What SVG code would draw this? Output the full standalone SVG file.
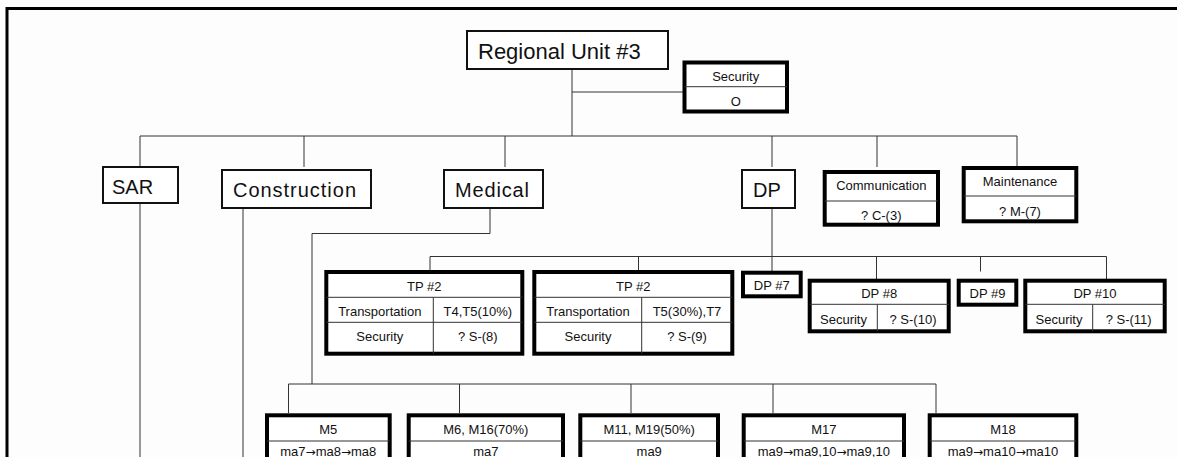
<svg xmlns="http://www.w3.org/2000/svg" width="1177" height="457" viewBox="0 0 1177 457">
  <style>
    .frame { fill: none; stroke: #000; stroke-width: 3; }
    .wire { fill: none; stroke: #333; stroke-width: 1; }
    .unit { fill: #fff; stroke: #111; stroke-width: 2; }
    .cell { fill: #fff; stroke: #000; stroke-width: 4; }
    .rule { fill: none; stroke: #333; stroke-width: 1; }
    .big { font-family: "Liberation Sans", "DejaVu Sans", sans-serif; font-size: 20px; fill: #111; }
    .txt { font-family: "Liberation Sans", "DejaVu Sans", sans-serif; font-size: 13px; fill: #111; text-anchor: middle; }
    .arr { font-family: "DejaVu Sans", sans-serif; font-size: 12px; }
  </style>
  <rect width="1177" height="457" fill="#fdfdfd"/>
  <path class="frame" d="M7,457 V8.5 H1177"/>

  <!-- connectors -->
  <g id="connectors">
    <path class="wire" d="M572,69 V136 M572,92 H684"/>
    <path class="wire" d="M140,136 H1017"/>
    <path class="wire" d="M140,136 V167 M304,136 V167 M505,136 V167 M772,136 V167 M877,136 V167 M1017,136 V166"/>
    <path class="wire" d="M140,203 V457"/>
    <path class="wire" d="M243,208 V457"/>
    <path class="wire" d="M490,208 V233.5 H312 V384"/>
    <path class="wire" d="M288.5,384 H936"/>
    <path class="wire" d="M288.5,384 V413 M459.5,384 V413 M631,384 V413 M773,384 V413 M936,384 V413"/>
    <path class="wire" d="M772,208 V271"/>
    <path class="wire" d="M430,256.5 H1106.5"/>
    <path class="wire" d="M430,256.5 V270 M638.5,256.5 V270 M876.5,256.5 V279 M980.5,256.5 V271.5 M1106.5,256.5 V279"/>
  </g>

  <!-- top unit -->
  <g id="regional-unit">
    <rect class="unit" x="467" y="31" width="201" height="38"/>
    <text class="big" x="478" y="59" style="font-size:22px">Regional Unit #3</text>
  </g>

  <g id="security-top">
    <rect class="cell" x="684.5" y="62.5" width="102.5" height="49"/>
    <path class="rule" d="M684.5,86.7 H787"/>
    <text class="txt" x="735.7" y="80.5">Security</text>
    <text class="txt" x="735.7" y="106">O</text>
  </g>

  <!-- second level -->
  <g id="sar">
    <rect class="unit" x="103" y="167" width="75" height="36"/>
    <text class="big" x="112" y="194">SAR</text>
  </g>
  <g id="construction">
    <rect class="unit" x="222" y="170" width="149" height="38"/>
    <text class="big" x="233" y="197" textLength="123">Construction</text>
  </g>
  <g id="medical">
    <rect class="unit" x="444" y="170" width="99" height="38"/>
    <text class="big" x="455" y="197" textLength="74">Medical</text>
  </g>
  <g id="dp">
    <rect class="unit" x="742" y="170" width="53" height="38"/>
    <text class="big" x="753" y="197">DP</text>
  </g>
  <g id="communication">
    <rect class="cell" x="824.7" y="172" width="113.3" height="52.7"/>
    <path class="rule" d="M824.7,201 H938"/>
    <text class="txt" x="881.3" y="189.5">Communication</text>
    <text class="txt" x="881.3" y="219.5">? C-(3)</text>
  </g>
  <g id="maintenance">
    <rect class="cell" x="963.7" y="168" width="112.6" height="53.3"/>
    <path class="rule" d="M963.7,196 H1076.3"/>
    <text class="txt" x="1020" y="186">Maintenance</text>
    <text class="txt" x="1020" y="216">? M-(7)</text>
  </g>

  <!-- transport points -->
  <g id="tp2-a">
    <rect class="cell" x="326.3" y="272" width="196" height="81.7"/>
    <path class="rule" d="M326.3,297.3 H522.3 M326.3,322.3 H522.3 M433.3,297.3 V353.7"/>
    <text class="txt" x="424.3" y="291">TP #2</text>
    <text class="txt" x="379.8" y="315.5">Transportation</text>
    <text class="txt" x="477.8" y="315.5">T4,T5(10%)</text>
    <text class="txt" x="379.8" y="341">Security</text>
    <text class="txt" x="477.8" y="341">? S-(8)</text>
  </g>
  <g id="tp2-b">
    <rect class="cell" x="534.3" y="272" width="198" height="81.7"/>
    <path class="rule" d="M534.3,297.3 H732.3 M534.3,322.3 H732.3 M641.7,297.3 V353.7"/>
    <text class="txt" x="633.3" y="291">TP #2</text>
    <text class="txt" x="588" y="315.5">Transportation</text>
    <text class="txt" x="687" y="315.5">T5(30%),T7</text>
    <text class="txt" x="588" y="341">Security</text>
    <text class="txt" x="687" y="341">? S-(9)</text>
  </g>

  <!-- distribution points -->
  <g id="dp7">
    <rect class="cell" x="743" y="272.7" width="57.7" height="23.6"/>
    <text class="txt" x="771.8" y="290">DP #7</text>
  </g>
  <g id="dp8">
    <rect class="cell" x="809.7" y="280.7" width="139" height="50.6"/>
    <path class="rule" d="M809.7,304.3 H948.7 M877.3,304.3 V331.3"/>
    <text class="txt" x="879.2" y="297.5">DP #8</text>
    <text class="txt" x="843.5" y="323.5">Security</text>
    <text class="txt" x="913" y="323.5">? S-(10)</text>
  </g>
  <g id="dp9">
    <rect class="cell" x="958.7" y="280.7" width="57.6" height="24"/>
    <text class="txt" x="987.5" y="297.5">DP #9</text>
  </g>
  <g id="dp10">
    <rect class="cell" x="1025.3" y="280.7" width="139.4" height="50.6"/>
    <path class="rule" d="M1025.3,304.3 H1164.7 M1092.7,304.3 V331.3"/>
    <text class="txt" x="1095" y="297.5">DP #10</text>
    <text class="txt" x="1059" y="323.5">Security</text>
    <text class="txt" x="1128.7" y="323.5">? S-(11)</text>
  </g>

  <!-- medical teams -->
  <g id="m5">
    <rect class="cell" x="267" y="415.3" width="122.7" height="80"/>
    <path class="rule" d="M267,441 H389.7"/>
    <text class="txt" x="328.3" y="433.5">M5</text>
    <text class="txt" x="328.3" y="456">ma7<tspan class="arr">→</tspan>ma8<tspan class="arr">→</tspan>ma8</text>
  </g>
  <g id="m6">
    <rect class="cell" x="408.7" y="415.3" width="154.3" height="80"/>
    <path class="rule" d="M408.7,441 H563"/>
    <text class="txt" x="485.8" y="433.5">M6, M16(70%)</text>
    <text class="txt" x="485.8" y="456">ma7</text>
  </g>
  <g id="m11">
    <rect class="cell" x="580.3" y="415.3" width="137.7" height="80"/>
    <path class="rule" d="M580.3,441 H718"/>
    <text class="txt" x="649.2" y="433.5">M11, M19(50%)</text>
    <text class="txt" x="649.2" y="456">ma9</text>
  </g>
  <g id="m17">
    <rect class="cell" x="743.7" y="415.3" width="160.3" height="80"/>
    <path class="rule" d="M743.7,441 H904"/>
    <text class="txt" x="823.8" y="433.5">M17</text>
    <text class="txt" x="823.8" y="456">ma9<tspan class="arr">→</tspan>ma9,10<tspan class="arr">→</tspan>ma9,10</text>
  </g>
  <g id="m18">
    <rect class="cell" x="929.7" y="415.3" width="146.6" height="80"/>
    <path class="rule" d="M929.7,441 H1076.3"/>
    <text class="txt" x="1003" y="433.5">M18</text>
    <text class="txt" x="1003" y="456">ma9<tspan class="arr">→</tspan>ma10<tspan class="arr">→</tspan>ma10</text>
  </g>
</svg>
